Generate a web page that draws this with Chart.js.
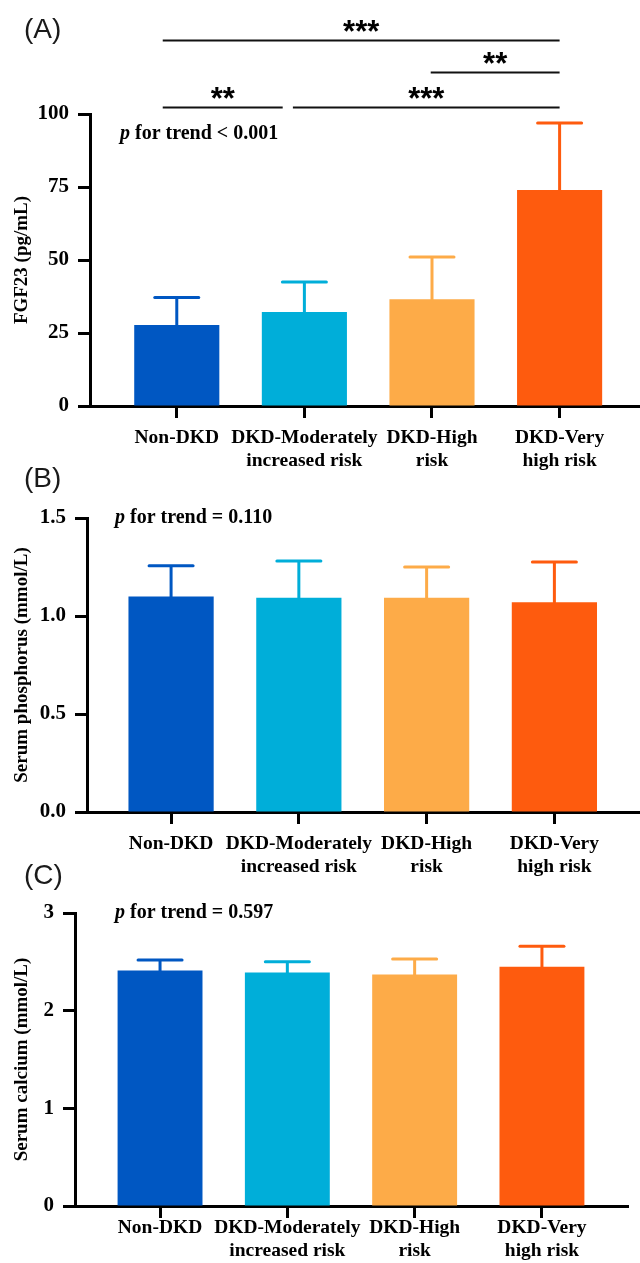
<!DOCTYPE html>
<html>
<head>
<meta charset="utf-8">
<script src="https://cdn.jsdelivr.net/npm/chart.js@4.4.1/dist/chart.umd.min.js"></script>
<style>
  html, body { margin: 0; padding: 0; background: #fff; }
  #wrap { position: relative; width: 640px; height: 1263px; }
  canvas { position: absolute; left: 0; }
</style>
</head>
<body>
<div id="wrap">
  <canvas id="chartA" width="640" height="480" style="top:0"></canvas>
  <canvas id="chartB" width="640" height="425" style="top:455px"></canvas>
  <canvas id="chartC" width="640" height="408" style="top:855px"></canvas>
</div>
<script>
// groups (multi-line tick labels)
const categories = [['Non-DKD'], ['DKD-Moderately', 'increased risk'], ['DKD-High', 'risk'], ['DKD-Very', 'high risk']];
const barColors = ['#0057c2', '#00aed9', '#fdab48', '#fe5b0e'];

// (A) FGF23, mean and mean+SD
const fgf23Mean  = [27.7, 32.2, 36.6, 74.0];
const fgf23Upper = [37.2, 42.5, 51.0, 96.9];
const fgf23Ticks = [0, 25, 50, 75, 100];

// (B) serum phosphorus
const phosMean  = [1.10, 1.093, 1.093, 1.07];
const phosUpper = [1.256, 1.28, 1.25, 1.275];
const phosTicks = [0, 0.5, 1.0, 1.5];

// (C) serum calcium
const calcMean  = [2.41, 2.39, 2.37, 2.45];
const calcUpper = [2.52, 2.50, 2.53, 2.66];
const calcTicks = [0, 1, 2, 3];

// significance brackets for (A): group index range, level in pg/mL
const fgf23Brackets = [
  { from: -0.11, to: 3.0, level: 125.3, stars: '***' },
  { from: 1.99, to: 3.0, level: 114.4, stars: '**' },
  { from: -0.11, to: 0.83, level: 102.4, stars: '**' },
  { from: 0.91, to: 3.0, level: 102.4, stars: '***' }
];

Chart.defaults.font.family = '"Liberation Serif", "Times New Roman", serif';
Chart.defaults.font.weight = 'bold';
Chart.defaults.color = '#000';

// upper error bars with caps, drawn with the bar colour
const errorBars = {
  id: 'errorBars',
  afterDatasetsDraw(chart) {
    const ctx = chart.ctx;
    const meta = chart.getDatasetMeta(0);
    const upper = chart.data.datasets[0].upper;
    const y = chart.scales.y;
    ctx.save();
    ctx.lineWidth = 3;
    meta.data.forEach((bar, i) => {
      const top = y.getPixelForValue(upper[i]);
      ctx.strokeStyle = barColors[i];
      ctx.lineCap = 'butt';
      ctx.beginPath();
      ctx.moveTo(bar.x, bar.y + 1);
      ctx.lineTo(bar.x, top);
      ctx.stroke();
      ctx.lineCap = 'round';
      ctx.beginPath();
      ctx.moveTo(bar.x - 22, top);
      ctx.lineTo(bar.x + 22, top);
      ctx.stroke();
    });
    ctx.restore();
  }
};

function makeNotes(cfg) {
  return {
    id: 'notes',
    afterDraw(chart) {
      const ctx = chart.ctx;
      const xs = chart.scales.x, ys = chart.scales.y;
      ctx.save();
      ctx.textAlign = 'left';
      ctx.textBaseline = 'middle';
      ctx.fillStyle = '#1a1a1a';
      ctx.font = '28px "Liberation Sans", Arial, sans-serif';
      ctx.fillText(cfg.letter, 24, cfg.letterY);

      const tx = chart.chartArea.left + cfg.trendX;
      const ty = ys.getPixelForValue(cfg.trendAt);
      ctx.fillStyle = '#000';
      ctx.font = 'italic bold 20px "Liberation Serif", serif';
      ctx.fillText('p', tx, ty);
      const pw = ctx.measureText('p').width;
      ctx.font = 'bold 20px "Liberation Serif", serif';
      ctx.fillText(cfg.trend, tx + pw, ty);

      (cfg.brackets || []).forEach(b => {
        const x1 = xs.getPixelForValue(b.from);
        const x2 = xs.getPixelForValue(b.to);
        const ly = Math.round(ys.getPixelForValue(b.level)) + 0.5;
        ctx.strokeStyle = '#111';
        ctx.lineWidth = 2;
        ctx.beginPath();
        ctx.moveTo(x1, ly);
        ctx.lineTo(x2, ly);
        ctx.stroke();
        ctx.font = 'bold 31px "Liberation Sans", Arial, sans-serif';
        ctx.textAlign = 'center';
        ctx.textBaseline = 'alphabetic';
        ctx.fillText(b.stars, (x1 + x2) / 2, ly + 1);
        ctx.textAlign = 'left';
        ctx.textBaseline = 'middle';
      });
      ctx.restore();
    }
  };
}

function makePanel(id, cfg) {
  const canvas = document.getElementById(id);
  const axisLine = { display: true, color: '#000', width: 3 };
  const tickMarks = { display: true, drawOnChartArea: false, drawTicks: true, offset: false, tickLength: 12, tickWidth: 3, tickColor: '#000' };
  return new Chart(canvas, {
    type: 'bar',
    data: {
      datasets: [{
        data: cfg.means.map((v, i) => ({ x: i, y: v })),
        upper: cfg.upper,
        backgroundColor: barColors,
        borderWidth: 0,
        barPercentage: 0.667,
        categoryPercentage: 1
      }]
    },
    options: {
      responsive: false,
      animation: false,
      layout: { padding: { top: cfg.top, right: cfg.padRight, left: 0, bottom: 0 } },
      plugins: { legend: { display: false }, tooltip: { enabled: false } },
      scales: {
        x: {
          type: 'linear',
          offset: false,
          min: cfg.xMin,
          max: cfg.xMax,
          afterBuildTicks: s => { s.ticks = categories.map((c, i) => ({ value: i })); },
          afterFit: s => { s.height = cfg.xAxisHeight; },
          ticks: {
            callback: v => categories[v],
            autoSkip: false,
            maxRotation: 0,
            padding: cfg.labelPad,
            font: { size: 19.5, weight: 'bold', lineHeight: 1.2 }
          },
          grid: tickMarks,
          border: axisLine
        },
        y: {
          min: cfg.yTicks[0],
          max: cfg.yTicks[cfg.yTicks.length - 1],
          afterBuildTicks: s => { s.ticks = cfg.yTicks.map(v => ({ value: v })); },
          afterFit: s => { s.width = cfg.yAxisWidth; },
          ticks: {
            callback: v => cfg.yFmt(v),
            padding: 9,
            font: { size: 21, weight: 'bold' }
          },
          title: {
            display: true,
            text: cfg.yTitle,
            padding: { top: 11, bottom: 0 },
            font: { size: 19, weight: 'bold', lineHeight: 1.2 }
          },
          grid: tickMarks,
          border: axisLine
        }
      }
    },
    plugins: [errorBars, makeNotes(cfg)]
  });
}

makePanel('chartA', {
  means: fgf23Mean, upper: fgf23Upper, yTicks: fgf23Ticks, yFmt: v => String(v),
  yTitle: 'FGF23 (pg/mL)',
  top: 114, padRight: 0, xAxisHeight: 74, yAxisWidth: 90, xMin: -0.68, xMax: 3.63, labelPad: 8,
  letter: '(A)', letterY: 30, trend: ' for trend < 0.001', trendAt: 93.2, trendX: 30,
  brackets: fgf23Brackets
});

makePanel('chartB', {
  means: phosMean, upper: phosUpper, yTicks: phosTicks, yFmt: v => v.toFixed(1),
  yTitle: 'Serum phosphorus (mmol/L)',
  top: 63, padRight: 0, xAxisHeight: 68, yAxisWidth: 87, xMin: -0.658, xMax: 3.67, labelPad: 8,
  letter: '(B)', letterY: 24, trend: ' for trend = 0.110', trendAt: 1.5, trendX: 28
});

makePanel('chartC', {
  means: calcMean, upper: calcUpper, yTicks: calcTicks, yFmt: v => String(v),
  yTitle: 'Serum calcium (mmol/L)',
  top: 58, padRight: 12, xAxisHeight: 57, yAxisWidth: 75, xMin: -0.668, xMax: 3.676, labelPad: -2,
  letter: '(C)', letterY: 21, trend: ' for trend = 0.597', trendAt: 3, trendX: 40
});
</script>
</body>
</html>
